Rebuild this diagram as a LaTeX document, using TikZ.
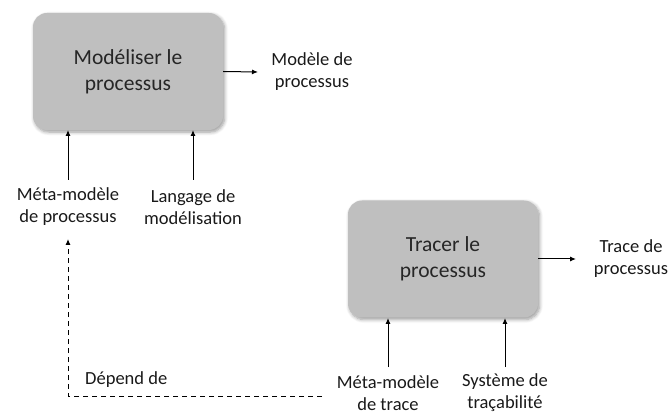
\documentclass[tikz,border=0pt]{standalone}
\usepackage{fontspec}
\setmainfont{Carlito}
\usetikzlibrary{arrows.meta,shadows.blur}
\begin{document}
\begin{tikzpicture}[x=1pt,y=-1pt,
  procbox/.style={draw=none,fill=black!25,rounded corners=14pt,minimum width=190pt,minimum height=117pt,
     blur shadow={shadow xshift=1.5pt,shadow yshift=-2pt,shadow blur steps=6,shadow blur radius=3.5pt,shadow opacity=40},
     font=\fontsize{21.5}{26}\selectfont,align=center,text=black!85},
  lbl/.style={font=\fontsize{18.5}{22}\selectfont,align=center,text=black!90,inner sep=1pt},
  arr/.style={-{Latex[length=6pt,width=5pt]},line width=1pt},
  darr/.style={arr,dash pattern=on 5pt off 4pt}]
\useasboundingbox (0,0) rectangle (670,414);
\node[procbox] (p1) at (128,71.5) {Modéliser le\\processus};
\node[procbox] (p2) at (443,259) {Tracer le\\processus};
\node[lbl] (o1) at (312,72) {Modèle de\\processus};
\node[lbl] (o2) at (631,259) {Trace de\\processus};
\node[lbl] (i1) at (68,207) {Méta-modèle\\de processus};
\node[lbl] (i2) at (193,207) {Langage de\\modélisation};
\node[lbl] (i3) at (388,393) {Méta-modèle\\de trace};
\node[lbl] (i4) at (505,393) {Système de\\traçabilité};
\node[lbl,anchor=west] (dep) at (84,380) {Dépend de};
\coordinate (c1) at (68,396);
\coordinate (c2) at (322,396);
\draw[arr] (p1.east) -- (258,72);
\draw[arr] (p2.east) -- (576,259);
\draw[arr] (68,180) -- (68,130);
\draw[arr] (193,180) -- (193,130);
\draw[arr] (388,367) -- (388,318);
\draw[arr] (505,367) -- (505,318);
\draw[darr] (c2) -- (c1) -- (68,239);
\end{tikzpicture}
\end{document}
